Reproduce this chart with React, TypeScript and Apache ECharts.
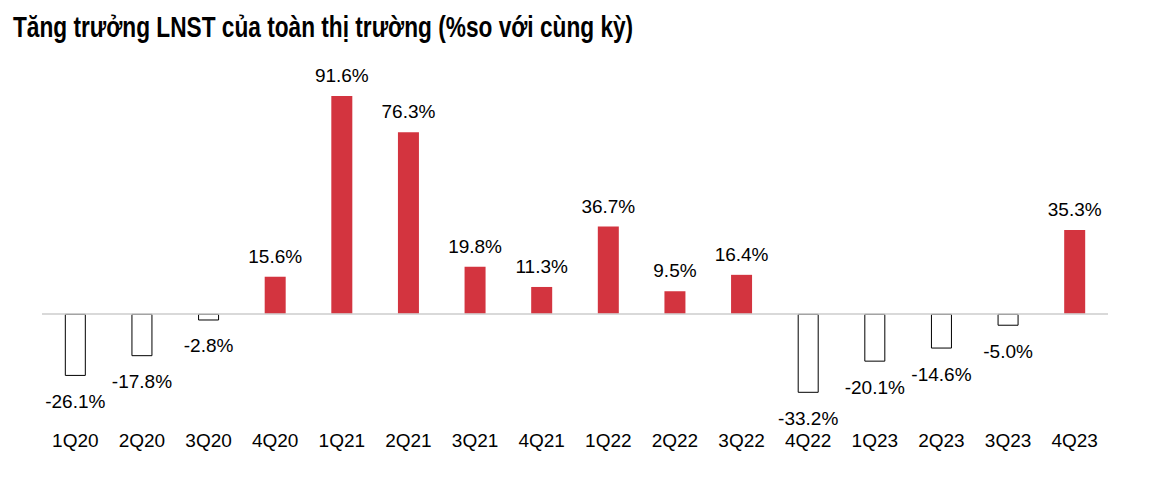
import React, { useEffect, useRef } from "react";
import * as echarts from "echarts";

const categories = ["1Q20", "2Q20", "3Q20", "4Q20", "1Q21", "2Q21", "3Q21", "4Q21", "1Q22", "2Q22", "3Q22", "4Q22", "1Q23", "2Q23", "3Q23", "4Q23"];
const growth = [-26.1, -17.8, -2.8, 15.6, 91.6, 76.3, 19.8, 11.3, 36.7, 9.5, 16.4, -33.2, -20.1, -14.6, -5.0, 35.3];
const titleText = "Tăng trưởng LNST của toàn thị trường (%so với cùng kỳ)";

const FONT = "'Liberation Sans', Arial, sans-serif";
const RED = "#d3343f";

export default function App() {
  const ref = useRef<HTMLDivElement>(null);
  useEffect(() => {
    if (!ref.current) return;
    const chart = echarts.init(ref.current, undefined, { renderer: "svg" });
    const data = growth.map((v) => ({
      value: v,
      itemStyle: v >= 0
        ? { color: RED, borderWidth: 0 }
        : { color: "#ffffff", borderColor: "#000000", borderWidth: 1 },
      label: {
        position: v >= 0 ? "top" : "bottom",
        distance: v >= 0 ? 11 : 16,
      },
    }));
    chart.setOption({
      animation: false,
      backgroundColor: "#ffffff",
      graphic: [
        {
          type: "text",
          x: 13,
          y: 12,
          scaleX: 0.756,
          style: {
            text: titleText,
            font: `bold 30px ${FONT}`,
            fill: "#000000",
            textVerticalAlign: "top",
          },
        },
      ],
      grid: { left: 42, right: 52, top: 76, bottom: 56, containLabel: false },
      xAxis: {
        type: "category",
        data: categories,
        axisLine: { show: false },
        axisTick: { show: false },
        axisLabel: { margin: 3, fontFamily: FONT, fontSize: 19, color: "#000000" },
        splitLine: { show: false },
      },
      yAxis: {
        type: "value",
        min: -48,
        max: 100,
        show: false,
        splitLine: { show: false },
      },
      series: [
        {
          type: "bar",
          data,
          barWidth: 21,
          label: {
            show: true,
            fontFamily: FONT,
            fontSize: 19,
            color: "#000000",
            formatter: (p: any) => `${Number(p.value).toFixed(1)}%`,
          },
          markLine: {
            silent: true,
            symbol: "none",
            label: { show: false },
            lineStyle: { color: "#cccccc", width: 1.5, type: "solid" },
            data: [{ yAxis: 0 }],
          },
          z: 3,
        },
      ],
    });
    return () => chart.dispose();
  }, []);
  return (
    <div
      ref={ref}
      style={{ position: "absolute", left: 0, top: 0, width: 1160, height: 484 }}
    />
  );
}
